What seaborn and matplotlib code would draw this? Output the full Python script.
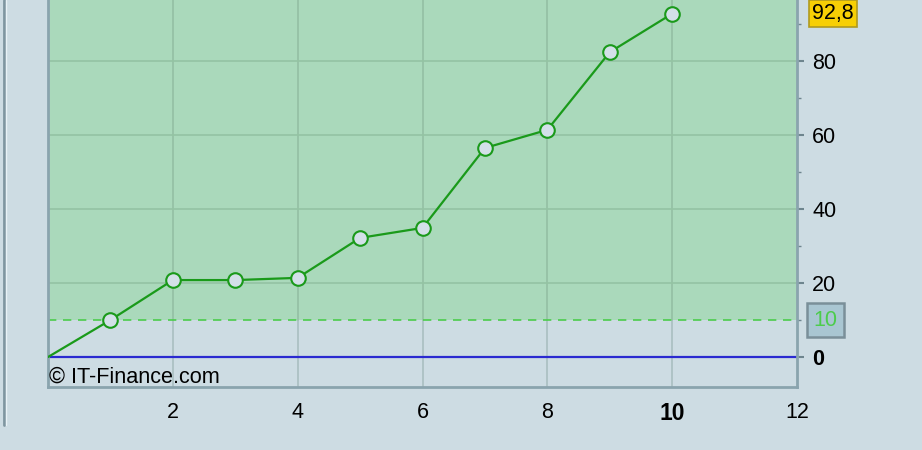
import matplotlib
matplotlib.use("Agg")
import matplotlib.pyplot as plt
import seaborn as sns
import pandas as pd
from matplotlib.lines import Line2D

sns.set_theme(style="white")
plt.rcParams['font.family'] = ['Liberation Sans', 'DejaVu Sans']

# data
x_vals = [0, 1, 2, 3, 4, 5, 6, 7, 8, 9, 10]
y_vals = [0, 10.0, 20.8, 20.8, 21.4, 32.2, 34.9, 56.5, 61.4, 82.4, 92.8]
x_ticks = [2, 4, 6, 8, 10, 12]
y_ticks = [0, 20, 40, 60, 80]
threshold = 10
last_label = "92,8"
threshold_label = "10"
copyright_text = "© IT-Finance.com"

df = pd.DataFrame({"x": x_vals, "y": y_vals})

bg = "#cddce3"
fig = plt.figure(figsize=(9.22, 4.50), dpi=100, facecolor=bg)
ax = fig.add_axes([48/922, 1 - 387/450, (797-48)/922, 387/450 + 0.02])
ax.set_facecolor(bg)
ax.set_xlim(0, 12)
ax.set_ylim(-8.1, 96.5 + 0.02*450/3.7)

# green area above threshold
ax.axhspan(threshold, 200, color="#aad9bb", zorder=0, lw=0)

# grid
for gx in [2, 4, 6, 8, 10]:
    ax.axvline(gx, color="#a9bfc1", lw=1.2, zorder=1)
for gy in [20, 40, 60, 80]:
    ax.axhline(gy, color="#94c3a3", lw=1.2, zorder=1)
for gx in [2, 4, 6, 8, 10]:
    ax.plot([gx, gx], [threshold, 200], color="#94c3a3", lw=1.2, zorder=1)

ax.axhline(threshold, color="#4ccc4c", lw=1.2, ls=(0, (5, 4)), zorder=2)
ax.axhline(0, color="#2a2ad0", lw=1.6, zorder=2)

sns.lineplot(data=df, x="x", y="y", ax=ax, color="#1a9a1a", lw=1.6, zorder=3)
sns.scatterplot(data=df.iloc[1:], x="x", y="y", ax=ax, s=110, facecolor="#d3e0e8",
                edgecolor="#1a9a1a", linewidth=1.5, zorder=4)
ax.set_xlabel("")
ax.set_ylabel("")

ax.spines["top"].set_visible(False)
for s in ["left", "right", "bottom"]:
    ax.spines[s].set_color("#8aa4ae")
    ax.spines[s].set_linewidth(2)

ax.yaxis.tick_right()
ax.set_yticks(y_ticks)
ax.set_yticks([10, 30, 50, 70, 90], minor=True)
ax.set_xticks(x_ticks)
ax.set_xticks([1, 3, 5, 7, 9, 11], minor=True)
ax.tick_params(axis="both", which="major", length=5, width=1.5, color="#6e858e",
               labelsize=15.5, pad=6, direction="out", labelcolor="black")
ax.tick_params(axis="y", which="major", pad=6)
ax.tick_params(axis="both", which="minor", length=3, width=1, color="#6e858e", direction="out")
ax.tick_params(axis="y", right=True, left=False)
ax.set_xticklabels([str(t) for t in x_ticks])
ax.set_yticklabels([str(t) for t in y_ticks])
for lbl in ax.get_yticklabels():
    if lbl.get_text() == "0":
        lbl.set_fontweight("bold")
for lbl in ax.get_xticklabels():
    if lbl.get_text() == "10":
        lbl.set_fontweight("bold")
        lbl.set_fontsize(16.5)

# right-side boxed labels
ax.annotate(threshold_label, xy=(1, threshold), xycoords=("axes fraction", "data"),
            xytext=(12, 0), textcoords="offset points", ha="left", va="center",
            fontsize=15.5, color="#4ccc4c",
            bbox=dict(boxstyle="square,pad=0.3", fc="#a9c6d2", ec="#7a8f99", lw=1.8),
            annotation_clip=False)
ax.annotate(last_label, xy=(1, y_vals[-1]), xycoords=("axes fraction", "data"),
            xytext=(11, 0), textcoords="offset points", ha="left", va="center",
            fontsize=15.5, color="black",
            bbox=dict(boxstyle="square,pad=0.15", fc="#f7cf05", ec="#b09a20", lw=1.2),
            annotation_clip=False)

ax.text(0.01, -5.4, copyright_text, fontsize=15.6, color="black", ha="left", va="center",
        zorder=5)

# left frame line
fig.add_artist(Line2D([4/922, 4/922], [1 - 425/450, 1], color="#7f96a0", lw=2))
fig.add_artist(Line2D([6/922, 6/922], [1 - 425/450, 1], color="#e8f2f6", lw=1))

fig.savefig("out.png", dpi=100, facecolor=bg)
